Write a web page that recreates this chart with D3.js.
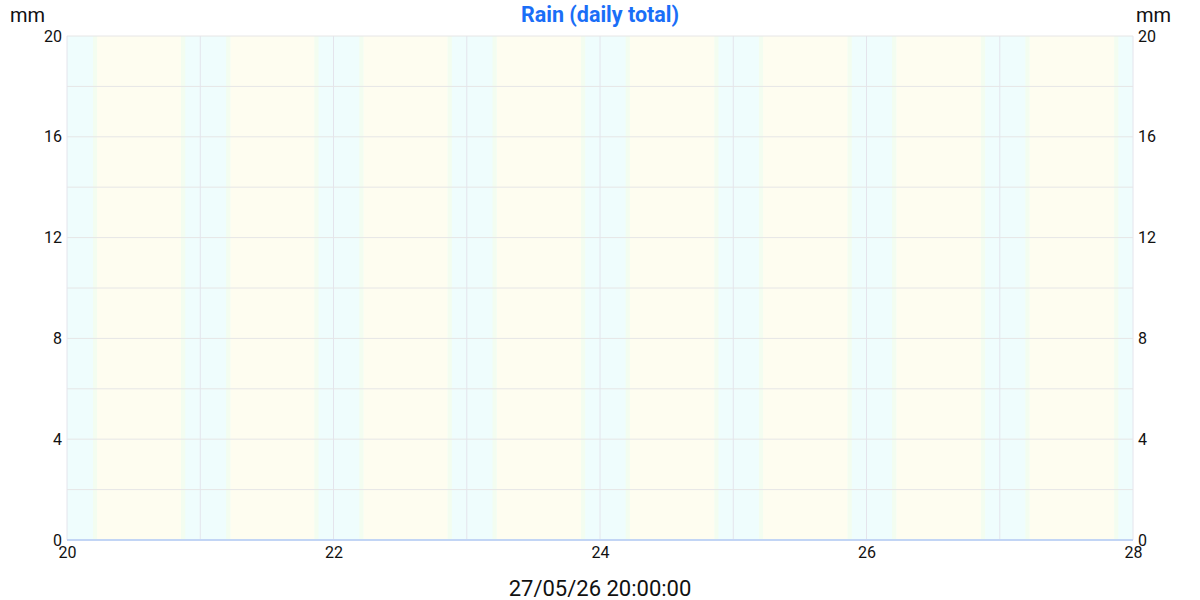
<!DOCTYPE html>
<html><head><meta charset="utf-8">
<script src="https://cdn.jsdelivr.net/npm/d3@7/dist/d3.min.js"></script>
<style>body{margin:0;background:#fff;font-family:Roboto,"Noto Sans",sans-serif;}</style>
</head><body><svg id="c" width="1200" height="600"></svg>
<script>
const days = [20, 21, 22, 23, 24, 25, 26, 27];
const rain = [0, 0, 0, 0, 0, 0, 0, 0];
const sunrise = [5.05, 5.04, 5.03, 5.02, 5.01, 5.00, 4.99, 4.98];
const sunset = [20.92, 20.93, 20.94, 20.95, 20.96, 20.97, 20.98, 20.99];
const xTicks = [20, 22, 24, 26, 28];
const yTicks = [0, 4, 8, 12, 16, 20];
const yGrid = [0, 2, 4, 6, 8, 10, 12, 14, 16, 18, 20];
const title = "Rain (daily total)";
const unit = "mm";
const stamp = "27/05/26 20:00:00";

const svg = d3.select("#c");
const m = {l: 67, r: 1133, t: 36, b: 540};
const x = d3.scaleLinear().domain([20, 28]).range([m.l, m.r]);
const y = d3.scaleLinear().domain([0, 20]).range([m.b, m.t]);
const night = "#effdfd", dayc = "#fefdf0", twi = "#f3fdf0";
const tw = 0.75 / 24;

const g = svg.append("g");
g.append("rect").attr("x", x(20)).attr("y", y(20)).attr("width", x(28) - x(20)).attr("height", y(0) - y(20)).attr("fill", night);
days.forEach((d, i) => {
  const sr = d + sunrise[i] / 24, ss = d + sunset[i] / 24;
  g.append("rect").attr("x", x(sr - tw / 2)).attr("y", y(20)).attr("width", x(sr + tw / 2) - x(sr - tw / 2)).attr("height", y(0) - y(20)).attr("fill", twi);
  g.append("rect").attr("x", x(ss - tw / 2)).attr("y", y(20)).attr("width", x(ss + tw / 2) - x(ss - tw / 2)).attr("height", y(0) - y(20)).attr("fill", twi);
  g.append("rect").attr("x", x(sr + tw / 2)).attr("y", y(20)).attr("width", x(ss - tw / 2) - x(sr + tw / 2)).attr("height", y(0) - y(20)).attr("fill", dayc);
});

// grid
g.selectAll(".hg").data(yGrid).enter().append("line")
  .attr("x1", m.l).attr("x2", m.r).attr("y1", d => y(d)).attr("y2", d => y(d))
  .attr("stroke", "#e6e6e6").attr("stroke-width", 1);
g.selectAll(".vg").data(d3.range(20, 29)).enter().append("line")
  .attr("x1", d => x(d)).attr("x2", d => x(d)).attr("y1", m.t).attr("y2", m.b)
  .attr("stroke", "#e4e4ec").attr("stroke-width", 1);

// bars (daily totals)
const bw = (x(21) - x(20)) * 0.8;
g.selectAll(".bar").data(days).enter().append("rect")
  .attr("x", (d) => x(d + 0.5) - bw / 2).attr("width", bw)
  .attr("y", (d, i) => y(rain[i])).attr("height", (d, i) => y(0) - y(rain[i]))
  .attr("fill", "#4a90e2");

// baseline
g.append("line").attr("x1", m.l).attr("x2", m.r).attr("y1", y(0)).attr("y2", y(0))
  .attr("stroke", "#c2d5f5").attr("stroke-width", 2);

// axes
const left = svg.append("g").attr("transform", `translate(${m.l},0)`)
  .call(d3.axisLeft(y).tickValues(yTicks).tickSize(0).tickPadding(5).tickFormat(d3.format("d")));
const right = svg.append("g").attr("transform", `translate(${m.r},0)`)
  .call(d3.axisRight(y).tickValues(yTicks).tickSize(0).tickPadding(5).tickFormat(d3.format("d")));
const bottom = svg.append("g").attr("transform", `translate(0,${m.b})`)
  .call(d3.axisBottom(x).tickValues(xTicks).tickSize(0).tickPadding(7).tickFormat(d3.format("d")));
[left, right, bottom].forEach(a => {
  a.select(".domain").remove();
  a.selectAll("text").attr("font-family", "Roboto").attr("font-size", 16).attr("fill", "#111");
});

svg.append("text").attr("x", 600).attr("y", 22).attr("text-anchor", "middle")
  .attr("font-family", "Roboto").attr("font-weight", "bold").attr("font-size", 21.5).attr("fill", "#1a6ef7").text(title);
svg.append("text").attr("x", 10).attr("y", 22).attr("font-family", "Roboto").attr("font-size", 20).attr("fill", "#111").text(unit);
svg.append("text").attr("x", 1136).attr("y", 22).attr("font-family", "Roboto").attr("font-size", 20).attr("fill", "#111").text(unit);
svg.append("text").attr("x", 600).attr("y", 596).attr("text-anchor", "middle")
  .attr("font-family", "Roboto").attr("font-size", 22).attr("fill", "#111").text(stamp);
</script></body></html>
